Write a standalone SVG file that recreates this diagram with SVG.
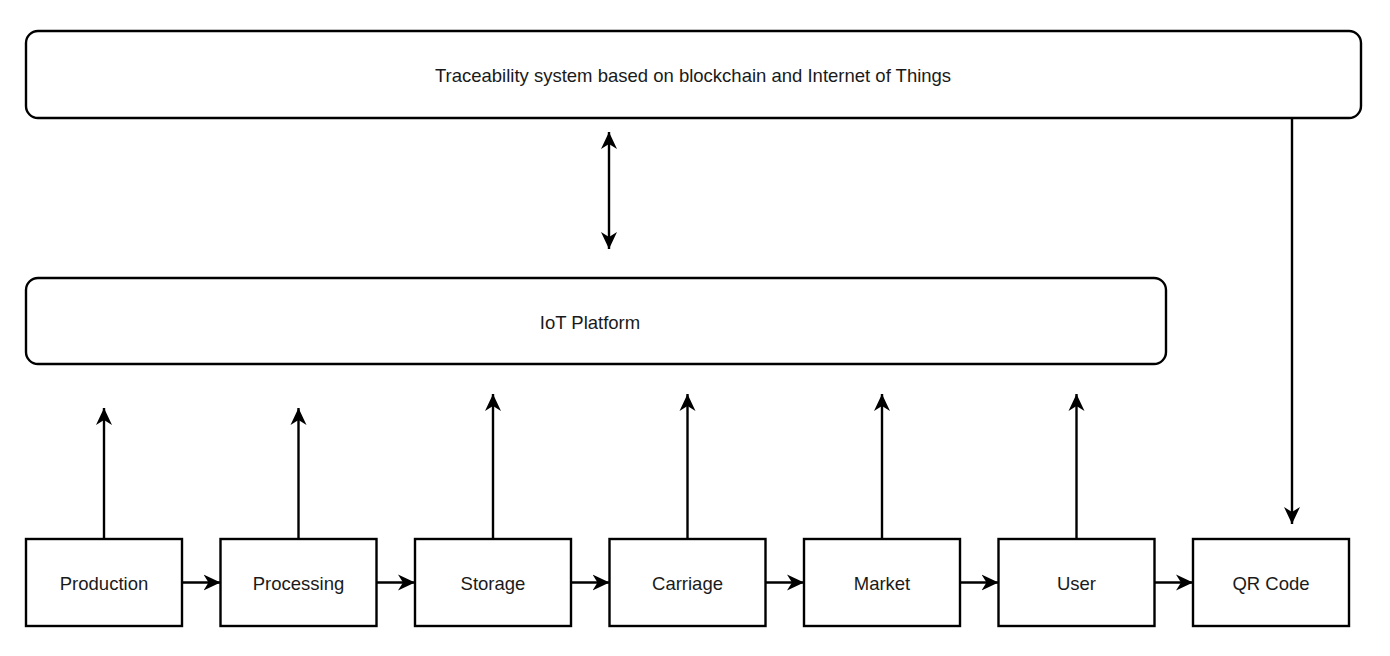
<svg xmlns="http://www.w3.org/2000/svg" width="1390" height="656" viewBox="0 0 1390 656">
<style>
.box{fill:#fff;stroke:#000;stroke-width:2.4}
.lbl{font-family:"Liberation Sans",Arial,sans-serif;font-size:18.5px;fill:#1a1a1a;text-anchor:middle;dominant-baseline:central}
.con{stroke:#000;stroke-width:2.4;fill:none}
</style>
<defs>
<marker id="ah" markerWidth="18" markerHeight="17" viewBox="0 0 18 17" refX="17" refY="8.5" orient="auto" markerUnits="userSpaceOnUse">
<path d="M0,0.5 L17,8.5 L0,16.5 L5,8.5 Z" fill="#000"/>
</marker>
<marker id="ahs" markerWidth="18" markerHeight="17" viewBox="0 0 18 17" refX="17" refY="8.5" orient="auto-start-reverse" markerUnits="userSpaceOnUse">
<path d="M0,0.5 L17,8.5 L0,16.5 L5,8.5 Z" fill="#000"/>
</marker>
</defs>
<rect width="1390" height="656" fill="#fff"/>
<g id="traceability">
<rect class="box" x="26" y="31" width="1335" height="87" rx="12"/>
<text class="lbl" x="693" y="75">Traceability system based on blockchain and Internet of Things</text>
</g>
<g id="iot">
<rect class="box" x="26" y="278" width="1140" height="86" rx="12"/>
<text class="lbl" x="590" y="322">IoT Platform</text>
</g>
<g id="production"><rect class="box" x="26" y="539" width="156" height="87"/><text class="lbl" x="104" y="583">Production</text></g>
<g id="processing"><rect class="box" x="220.5" y="539" width="156" height="87"/><text class="lbl" x="298.5" y="583">Processing</text></g>
<g id="storage"><rect class="box" x="415" y="539" width="156" height="87"/><text class="lbl" x="493" y="583">Storage</text></g>
<g id="carriage"><rect class="box" x="609.5" y="539" width="156" height="87"/><text class="lbl" x="687.5" y="583">Carriage</text></g>
<g id="market"><rect class="box" x="804" y="539" width="156" height="87"/><text class="lbl" x="882" y="583">Market</text></g>
<g id="user"><rect class="box" x="998.5" y="539" width="156" height="87"/><text class="lbl" x="1076.5" y="583">User</text></g>
<g id="qrcode"><rect class="box" x="1193" y="539" width="156" height="87"/><text class="lbl" x="1271" y="583">QR Code</text></g>
<g id="connectors">
<line class="con" x1="609" y1="249" x2="609" y2="132" marker-start="url(#ahs)" marker-end="url(#ah)"/>
<line class="con" x1="1292" y1="118" x2="1292" y2="524" marker-end="url(#ah)"/>
<line class="con" x1="104" y1="539" x2="104" y2="408" marker-end="url(#ah)"/>
<line class="con" x1="298.5" y1="539" x2="298.5" y2="408" marker-end="url(#ah)"/>
<line class="con" x1="493" y1="539" x2="493" y2="394" marker-end="url(#ah)"/>
<line class="con" x1="687.5" y1="539" x2="687.5" y2="394" marker-end="url(#ah)"/>
<line class="con" x1="882" y1="539" x2="882" y2="394" marker-end="url(#ah)"/>
<line class="con" x1="1076.5" y1="539" x2="1076.5" y2="394" marker-end="url(#ah)"/>
<line class="con" x1="182" y1="582.5" x2="220.5" y2="582.5" marker-end="url(#ah)"/>
<line class="con" x1="376.5" y1="582.5" x2="415" y2="582.5" marker-end="url(#ah)"/>
<line class="con" x1="571" y1="582.5" x2="609.5" y2="582.5" marker-end="url(#ah)"/>
<line class="con" x1="765.5" y1="582.5" x2="804" y2="582.5" marker-end="url(#ah)"/>
<line class="con" x1="960" y1="582.5" x2="998.5" y2="582.5" marker-end="url(#ah)"/>
<line class="con" x1="1154.5" y1="582.5" x2="1193" y2="582.5" marker-end="url(#ah)"/>
</g>
</svg>
